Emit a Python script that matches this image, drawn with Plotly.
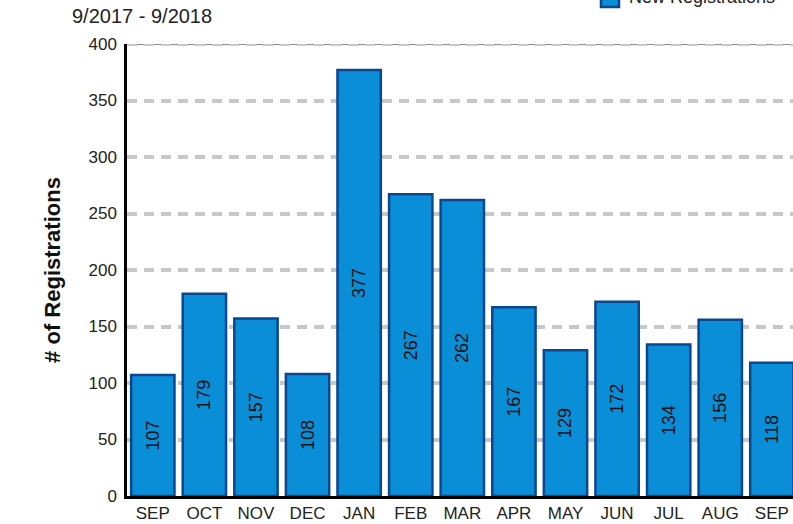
import plotly.graph_objects as go

months = ["SEP", "OCT", "NOV", "DEC", "JAN", "FEB", "MAR", "APR", "MAY", "JUN", "JUL", "AUG", "SEP "]
tick_text = ["SEP", "OCT", "NOV", "DEC", "JAN", "FEB", "MAR", "APR", "MAY", "JUN", "JUL", "AUG", "SEP"]
registrations = [107, 179, 157, 108, 377, 267, 262, 167, 129, 172, 134, 156, 118]
y_ticks = [0, 50, 100, 150, 200, 250, 300, 350, 400]

FONT = "Liberation Sans, Arial, sans-serif"
W, H = 793, 524
L, R, T, B = 127, 0, 44, 28
PW, PH = W - L - R, H - T - B


def px_x(p):
    return (p - L) / PW


def px_y(p):
    return (H - B - p) / PH


fig = go.Figure()
fig.add_trace(go.Bar(
    x=months, y=registrations, name="New Registrations",
    marker=dict(color="#0a8ed8", line=dict(color="#0c468f", width=2.5)),
    text=[str(v) for v in registrations], textposition="inside",
    insidetextanchor="middle", textangle=-90,
    textfont=dict(family=FONT, size=18, color="#111111"),
    showlegend=False,
))

fig.update_layout(
    width=W, height=H,
    margin=dict(l=L, r=R, t=T, b=B),
    paper_bgcolor="white", plot_bgcolor="white",
    bargap=0.16,
    showlegend=False,
    font=dict(family=FONT, color="#222222"),
)
fig.update_xaxes(
    tickvals=months, ticktext=tick_text, range=[-0.5, 12.41],
    tickfont=dict(family=FONT, size=17, color="#222222"),
    showline=True, linecolor="black", linewidth=3,
    showgrid=False, ticks="", fixedrange=True,
)
fig.update_yaxes(
    range=[0, 400], tickvals=y_ticks,
    tickfont=dict(family=FONT, size=17, color="#222222"),
    ticklabelstandoff=4,
    showline=True, linecolor="black", linewidth=2.5,
    showgrid=True, gridcolor="#c8c8c8", gridwidth=4, griddash="10px,7px",
    zeroline=False, ticks="",
    title=dict(text="<b># of Registrations</b>", standoff=22,
               font=dict(family=FONT, size=22, color="#111111")),
)
# top gridline: darker thin line with light dashes over it
fig.add_shape(type="line", xref="paper", yref="y", x0=0, x1=1, y0=400, y1=400,
              line=dict(color="#8a8a8a", width=2), layer="below")
fig.add_shape(type="line", xref="paper", yref="y", x0=0, x1=1, y0=400, y1=400,
              line=dict(color="#c8c8c8", width=4, dash="10px,7px"), layer="below")

# subtitle
fig.add_annotation(
    text="9/2017 - 9/2018", xref="paper", yref="paper",
    x=px_x(70), y=px_y(16), xanchor="left", yanchor="middle",
    showarrow=False, font=dict(family=FONT, size=20, color="#222222"),
)
# legend (partly outside the top edge, as in the reference)
fig.add_shape(type="rect", xref="paper", yref="paper",
              x0=px_x(601), x1=px_x(619), y0=px_y(7), y1=px_y(-12),
              fillcolor="#0a8ed8", line=dict(color="#0c468f", width=2.5))
fig.add_annotation(
    text="New Registrations", xref="paper", yref="paper",
    x=px_x(627), y=px_y(-3), xanchor="left", yanchor="middle",
    showarrow=False, font=dict(family=FONT, size=18, color="#222222"),
)

fig.write_html("out.html", config={"displayModeBar": False},
               post_script="document.body.style.margin='0';document.body.style.overflow='hidden';")
